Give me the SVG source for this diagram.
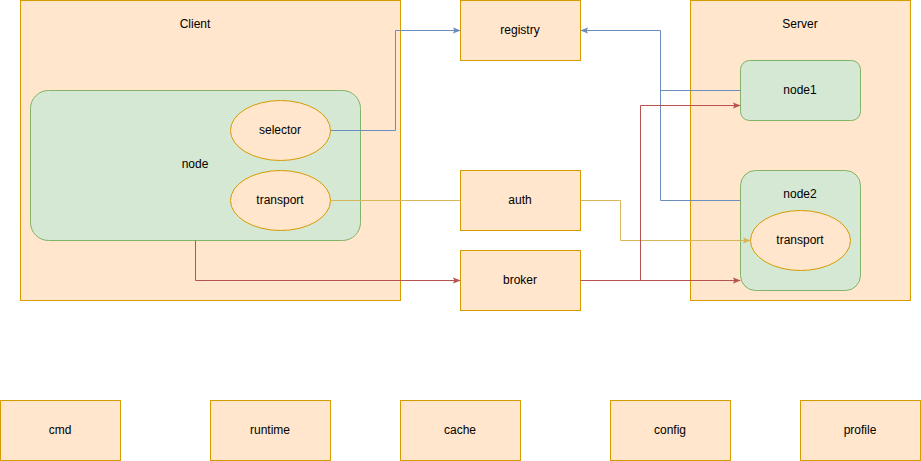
<svg xmlns="http://www.w3.org/2000/svg" width="921" height="461" viewBox="0 0 921 461">
<defs>
<style>
.box{fill:#ffe6cc;stroke:#d79b00;stroke-width:1}
.grn{fill:#d5e8d4;stroke:#82b366;stroke-width:1}
text{font-family:"Liberation Sans",Arial,sans-serif;font-size:12px;fill:#000;text-anchor:middle;dominant-baseline:central}
.c{fill:none;stroke-width:1}
.blue{stroke:#6c8ebf}
.yel{stroke:#d6b656}
.red{stroke:#b85450}
</style>
<marker id="ab" viewBox="0 0 10 10" refX="9" refY="5" markerWidth="8" markerHeight="8" markerUnits="userSpaceOnUse" orient="auto"><path d="M0,1 L10,5 L0,9 L2,5 Z" fill="#6c8ebf"/></marker>
<marker id="ay" viewBox="0 0 10 10" refX="9" refY="5" markerWidth="8" markerHeight="8" markerUnits="userSpaceOnUse" orient="auto"><path d="M0,1 L10,5 L0,9 L2,5 Z" fill="#d6b656"/></marker>
<marker id="ar" viewBox="0 0 10 10" refX="9" refY="5" markerWidth="8" markerHeight="8" markerUnits="userSpaceOnUse" orient="auto"><path d="M0,1 L10,5 L0,9 L2,5 Z" fill="#b85450"/></marker>
</defs>
<rect width="921" height="461" fill="#fff"/>
<g id="client"><rect class="box" x="20.5" y="0.5" width="380" height="300"/><text x="195" y="24">Client</text></g>
<g id="server"><rect class="box" x="690.5" y="0.5" width="220" height="300"/><text x="800" y="24">Server</text></g>
<g id="node"><rect class="grn" x="30.5" y="90.5" width="330" height="150" rx="18"/><text x="195" y="164">node</text></g>
<g id="selector"><ellipse class="box" cx="280.5" cy="130.5" rx="50" ry="30"/><text x="280" y="130">selector</text></g>
<g id="transport"><ellipse class="box" cx="280.5" cy="200.5" rx="50" ry="30"/><text x="280" y="200">transport</text></g>
<g id="registry"><rect class="box" x="460.5" y="0.5" width="120" height="60"/><text x="520" y="30">registry</text></g>
<g id="auth"><rect class="box" x="460.5" y="170.5" width="120" height="60"/><text x="520" y="200">auth</text></g>
<g id="broker"><rect class="box" x="460.5" y="250.5" width="120" height="60"/><text x="520" y="280">broker</text></g>
<g id="node1"><rect class="grn" x="740.5" y="60.5" width="120" height="60" rx="9"/><text x="800" y="90">node1</text></g>
<g id="node2"><rect class="grn" x="740.5" y="170.5" width="120" height="120" rx="15"/><text x="800" y="194">node2</text></g>
<g id="server-transport"><ellipse class="box" cx="800.5" cy="240.5" rx="50" ry="30"/><text x="800" y="240">transport</text></g>
<g id="cmd"><rect class="box" x="0.5" y="400.5" width="120" height="60"/><text x="60" y="430">cmd</text></g>
<g id="runtime"><rect class="box" x="210.5" y="400.5" width="120" height="60"/><text x="270" y="430">runtime</text></g>
<g id="cache"><rect class="box" x="400.5" y="400.5" width="120" height="60"/><text x="460" y="430">cache</text></g>
<g id="config"><rect class="box" x="610.5" y="400.5" width="120" height="60"/><text x="670" y="430">config</text></g>
<g id="profile"><rect class="box" x="800.5" y="400.5" width="120" height="60"/><text x="860" y="430">profile</text></g>
<g id="connectors">
<path class="c blue" d="M330.5,130.5 H395.5 V30.5 H460" marker-end="url(#ab)"/>
<path class="c blue" d="M740.5,90.5 H660.5 V30.5 H581" marker-end="url(#ab)"/>
<path class="c blue" d="M740.5,200.5 H660.5 V30.5"/>
<path class="c yel" d="M330.5,200.5 H460.5"/>
<path class="c yel" d="M580.5,200.5 H620.5 V240.5 H750" marker-end="url(#ay)"/>
<path class="c red" d="M195.5,240.5 V280.5 H460" marker-end="url(#ar)"/>
<path class="c red" d="M580.5,280.5 H740" marker-end="url(#ar)"/>
<path class="c red" d="M640.5,280.5 V105.5 H740" marker-end="url(#ar)"/>
</g>
</svg>
